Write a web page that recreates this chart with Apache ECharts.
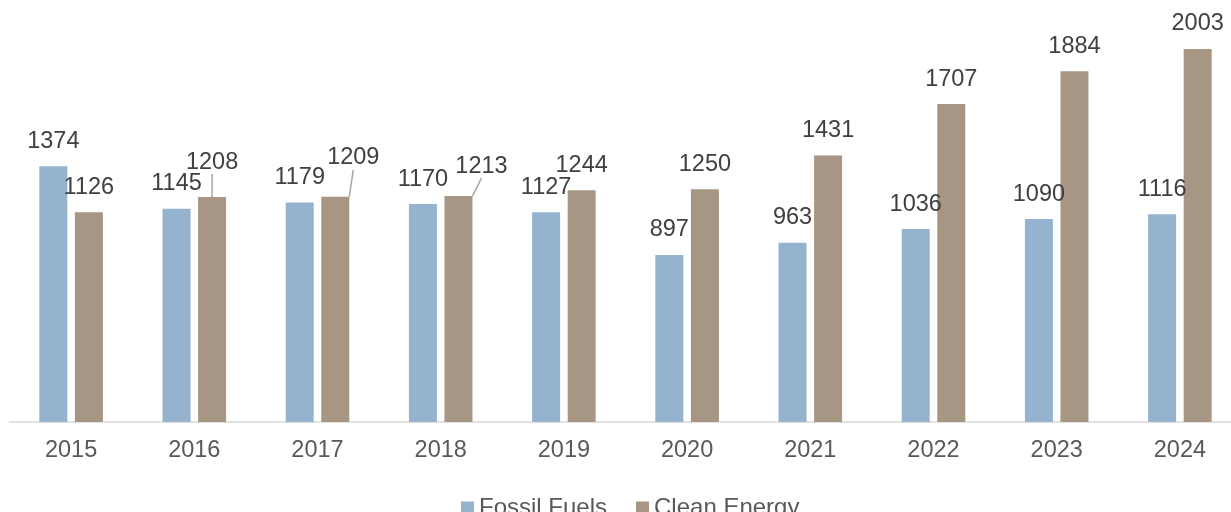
<!DOCTYPE html>
<html>
<head>
<meta charset="utf-8">
<script src="https://cdn.jsdelivr.net/npm/echarts@6/dist/echarts.min.js"></script>
<style>
  html, body { margin: 0; padding: 0; background: #fff; }
  #main { width: 1231px; height: 512px; }
</style>
</head>
<body>
<div id="main"></div>
<script>
var years = ["2015", "2016", "2017", "2018", "2019", "2020", "2021", "2022", "2023", "2024"];
var fossilFuels = [1374, 1145, 1179, 1170, 1127, 897, 963, 1036, 1090, 1116];
var cleanEnergy = [1126, 1208, 1209, 1213, 1244, 1250, 1431, 1707, 1884, 2003];

// labels that were pushed aside in the original (with leader lines)
var cleanLabelShift = { 1: [0, -10], 2: [18, -14], 3: [23, -5] };

var myChart = echarts.init(document.getElementById("main"));

var labelStyle = {
  show: true,
  position: "top",
  distance: 13,
  fontFamily: "Liberation Sans, Arial, sans-serif",
  fontSize: 23.5,
  lineHeight: 24,
  color: "#404040",
};

var cleanData = cleanEnergy.map(function (v, i) {
  if (cleanLabelShift[i]) {
    return { value: v, labelLine: { show: true } };
  }
  return v;
});

var option = {
  animation: false,
  grid: { left: 9.5, top: 3, width: 1232, height: 419, outerBoundsMode: "none", containLabel: false },
  legend: {
    left: 456,
    top: 491,
    itemWidth: 13,
    itemHeight: 13,
    itemGap: 29,
    icon: "rect",
    textStyle: {
      fontFamily: "Liberation Sans, Arial, sans-serif",
      fontSize: 24,
      color: "#595959",
    },
    data: ["Fossil Fuels", "Clean Energy"],
  },
  xAxis: {
    type: "category",
    data: years,
    axisLine: { lineStyle: { color: "#d9d9d9", width: 1.5 } },
    axisTick: { show: false },
    axisLabel: {
      margin: 17,
      fontFamily: "Liberation Sans, Arial, sans-serif",
      fontSize: 23.5,
      color: "#595959",
    },
  },
  yAxis: {
    type: "value",
    min: 0,
    max: 2250,
    show: false,
    splitLine: { show: false },
  },
  series: [
    {
      name: "Fossil Fuels",
      type: "bar",
      barWidth: 28,
      barGap: "27%",
      itemStyle: { color: "#95b3cf" },
      label: labelStyle,
      data: fossilFuels,
    },
    {
      name: "Clean Energy",
      type: "bar",
      barWidth: 28,
      itemStyle: { color: "#a69683" },
      label: labelStyle,
      labelLine: { show: false, lineStyle: { color: "#a6a6a6", width: 1.5 } },
      labelLayout: function (params) {
        var s = cleanLabelShift[params.dataIndex];
        if (s) return { dx: s[0], dy: s[1] };
        return {};
      },
      data: cleanData,
    },
  ],
};

myChart.setOption(option);
</script>
</body>
</html>
